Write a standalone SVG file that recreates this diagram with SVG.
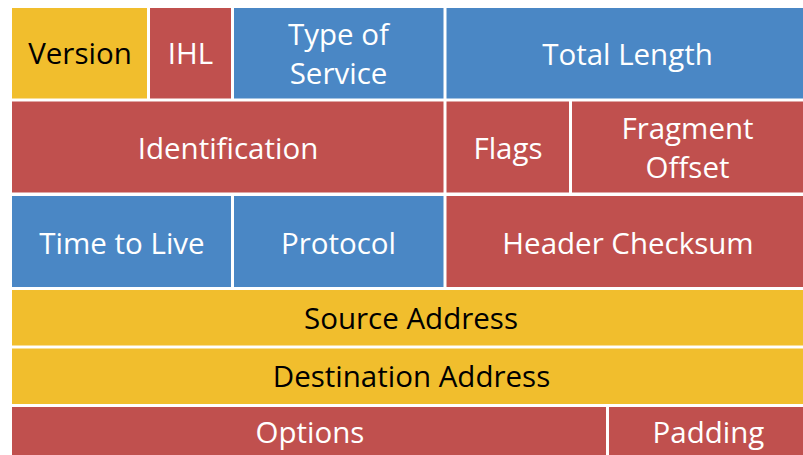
<svg xmlns="http://www.w3.org/2000/svg" width="803" height="455" viewBox="0 0 803 455">
<style>
.y{fill:#F1BE2D}.r{fill:#C0504E}.b{fill:#4A87C5}
text{font-family:"Open Sans","Liberation Sans",sans-serif;font-size:29.5px;text-anchor:middle;fill:#fff}
.k{fill:#000}
</style>
<rect width="803" height="455" fill="#fff"/>
<g id="version"><rect class="y" x="12" y="8" width="135" height="90.5"/><text class="k" x="80" y="64">Version</text></g>
<g id="ihl"><rect class="r" x="150" y="8" width="81" height="90.5"/><text x="190.5" y="64">IHL</text></g>
<g id="tos"><rect class="b" x="234" y="8" width="209.5" height="90.5"/><text x="338.5" y="45">Type of</text><text x="338.5" y="84">Service</text></g>
<g id="totallength"><rect class="b" x="446.5" y="8" width="356.5" height="90.5"/><text x="627.5" y="65">Total Length</text></g>
<g id="identification"><rect class="r" x="12" y="101.5" width="431.5" height="91"/><text x="228" y="159">Identification</text></g>
<g id="flags"><rect class="r" x="446.5" y="101.5" width="122.5" height="91"/><text x="508" y="159">Flags</text></g>
<g id="fragment"><rect class="r" x="572" y="101.5" width="231" height="91"/><text x="687.5" y="139">Fragment</text><text x="687.5" y="178">Offset</text></g>
<g id="ttl"><rect class="b" x="12" y="196" width="219" height="91"/><text x="122" y="254">Time to Live</text></g>
<g id="protocol"><rect class="b" x="234" y="196" width="209.5" height="91"/><text x="338.5" y="254">Protocol</text></g>
<g id="checksum"><rect class="r" x="446.5" y="196" width="356.5" height="91"/><text x="628" y="254">Header Checksum</text></g>
<g id="source"><rect class="y" x="12" y="290" width="791" height="55.5"/><text class="k" x="411" y="329">Source Address</text></g>
<g id="destination"><rect class="y" x="12" y="348.5" width="791" height="55.5"/><text class="k" x="411.5" y="387">Destination Address</text></g>
<g id="options"><rect class="r" x="12" y="407" width="594" height="48"/><text x="310" y="443">Options</text></g>
<g id="padding"><rect class="r" x="609" y="407" width="194" height="48"/><text x="708.5" y="443">Padding</text></g>
<g id="connectors"/>
</svg>
